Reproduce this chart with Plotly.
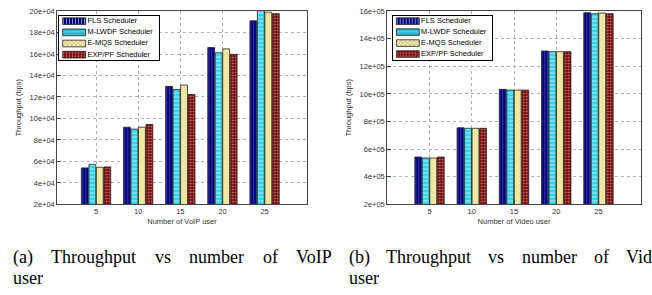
import plotly.graph_objects as go

# ---------------- data ----------------
users = [5, 10, 15, 20, 25]
series_names = ["FLS Scheduler", "M-LWDF Scheduler", "E-MQS Scheduler", "EXP/PF Scheduler"]

voip_fls = [5.40e4, 9.19e4, 12.99e4, 16.60e4, 19.10e4]
voip_mlwdf = [5.73e4, 9.01e4, 12.69e4, 16.12e4, 20.3e4]
voip_emqs = [5.46e4, 9.19e4, 13.11e4, 16.48e4, 19.90e4]
voip_exppf = [5.49e4, 9.44e4, 12.23e4, 15.97e4, 19.76e4]

video_fls = [5.43e5, 7.55e5, 10.33e5, 13.11e5, 15.88e5]
video_mlwdf = [5.36e5, 7.51e5, 10.28e5, 13.06e5, 15.81e5]
video_emqs = [5.36e5, 7.51e5, 10.28e5, 13.06e5, 15.86e5]
video_exppf = [5.43e5, 7.51e5, 10.28e5, 13.06e5, 15.81e5]

voip_ticks = [2e4, 4e4, 6e4, 8e4, 10e4, 12e4, 14e4, 16e4, 18e4, 20e4]
voip_ticktext = ["2e+04", "4e+04", "6e+04", "8e+04", "10e+04", "12e+04", "14e+04", "16e+04", "18e+04", "20e+04"]
video_ticks = [2e5, 4e5, 6e5, 8e5, 10e5, 12e5, 14e5, 16e5]
video_ticktext = ["2e+05", "4e+05", "6e+05", "8e+05", "10e+05", "12e+05", "14e+05", "16e+05"]

# ---------------- styles ----------------
W, H = 652, 295
FONT = "Liberation Sans"
colors = ["#000080", "#2fd6f0", "#f6eba4", "#7a0000"]
pshapes = ["|", "-", "x", "."]
pfg = ["#7070d0", "#ffffff", "#c9b878", "#ffffff"]
psize = [3, 4, 3, 3]
psol = [0.35, 0.3, 0.25, 0.3]


def px_x(p):
    return p / W


def px_y(p):
    return 1 - p / H


fig = go.Figure()

voip = [voip_fls, voip_mlwdf, voip_emqs, voip_exppf]
video = [video_fls, video_mlwdf, video_emqs, video_exppf]

for data, xa, ya in [(voip, "x", "y"), (video, "x2", "y2")]:
    for i, name in enumerate(series_names):
        fig.add_trace(go.Bar(
            x=users, y=data[i], name=name, xaxis=xa, yaxis=ya,
            showlegend=False,
            marker=dict(color=colors[i],
                        line=dict(color="#222222", width=0.8),
                        pattern=dict(shape=pshapes[i], fgcolor=pfg[i], size=psize[i],
                                     solidity=psol[i], fillmode="overlay")),
        ))

# custom legends (boxes drawn as small subplots)
for xa, ya in [("x3", "y3"), ("x4", "y4")]:
    fig.add_trace(go.Bar(
        y=series_names, x=[23] * 4, base=[3.7] * 4, orientation="h", width=0.6,
        xaxis=xa, yaxis=ya, showlegend=False, hoverinfo="skip",
        marker=dict(color=colors, line=dict(color="#222222", width=0.8),
                    pattern=dict(shape=pshapes, fgcolor=pfg, size=psize,
                                 solidity=psol, fillmode="overlay")),
    ))
    fig.add_trace(go.Scatter(
        y=series_names, x=[28.5] * 4, text=series_names, mode="text",
        textposition="middle right", xaxis=xa, yaxis=ya, showlegend=False,
        hoverinfo="skip", textfont=dict(family=FONT, size=7.5, color="#000000"),
    ))

axis_common = dict(
    showline=True, mirror=True, linecolor="#444444", linewidth=1,
    ticks="inside", ticklen=4, tickcolor="#444444",
    showgrid=True, gridcolor="#b0b0b0", griddash="dot", gridwidth=1,
    zeroline=False, tickfont=dict(family=FONT, size=7.5, color="#333333"),
)

title_font = dict(family=FONT, size=7.5, color="#333333")

legend_axis = dict(showline=True, mirror=True, linecolor="#000000", linewidth=1,
                   showgrid=False, zeroline=False, showticklabels=False, ticks="")

fig.update_layout(
    width=W, height=H, margin=dict(l=0, r=0, t=0, b=0),
    paper_bgcolor="white", plot_bgcolor="white",
    barmode="group", bargap=0.29, bargroupgap=0.08,
    xaxis=dict(domain=[px_x(57.3), px_x(306.7)], range=[0.4, 30], tickvals=users,
               anchor="y", title=dict(text="Number of VoIP user", font=title_font, standoff=3),
               **axis_common),
    yaxis=dict(domain=[px_y(206.7), px_y(7.3)], range=[2e4, 20e4], tickvals=voip_ticks,
               ticktext=voip_ticktext, anchor="x",
               title=dict(text="Throughput (bps)", font=title_font, standoff=6),
               **axis_common),
    xaxis2=dict(domain=[px_x(387.3), px_x(640.7)], range=[0, 30], tickvals=users,
                anchor="y2", title=dict(text="Number of Video user", font=title_font, standoff=3),
                **axis_common),
    yaxis2=dict(domain=[px_y(206.7), px_y(7.3)], range=[2e5, 16e5], tickvals=video_ticks,
                ticktext=video_ticktext, anchor="x2",
                title=dict(text="Throughput (bps)", font=title_font, standoff=6),
                **axis_common),
    xaxis3=dict(domain=[px_x(59), px_x(159)], range=[0, 100], anchor="y3", **legend_axis),
    yaxis3=dict(domain=[px_y(58), px_y(12)], type="category", range=[3.5, -0.5],
                anchor="x3", **legend_axis),
    xaxis4=dict(domain=[px_x(392.7), px_x(492.3)], range=[0, 100], anchor="y4", **legend_axis),
    yaxis4=dict(domain=[px_y(57.3), px_y(12)], type="category", range=[3.5, -0.5],
                anchor="x4", **legend_axis),
)

# captions (word by word, justified like the LaTeX subcaptions)
cap_font = dict(family="Liberation Serif", size=18, color="#000000")
caption_lines = [
    (["(a)", "Throughput", "vs", "number", "of", "VoIP"], [12, 50, 154, 188, 262, 295], 261),
    (["user"], [12], 283),
    (["(b)", "Throughput", "vs", "number", "of", "Video"], [348, 385, 487, 521, 593, 625], 261),
    (["user"], [348], 283),
]
for words, xs, yc in caption_lines:
    for w, xp in zip(words, xs):
        fig.add_annotation(text=w, x=px_x(xp), y=px_y(yc), xref="paper", yref="paper",
                           xanchor="left", yanchor="middle", showarrow=False,
                           font=cap_font, borderpad=0)

fig.write_html("out.html", config={"displayModeBar": False},
               post_script="document.body.style.margin='0';document.body.style.overflow='hidden';")
